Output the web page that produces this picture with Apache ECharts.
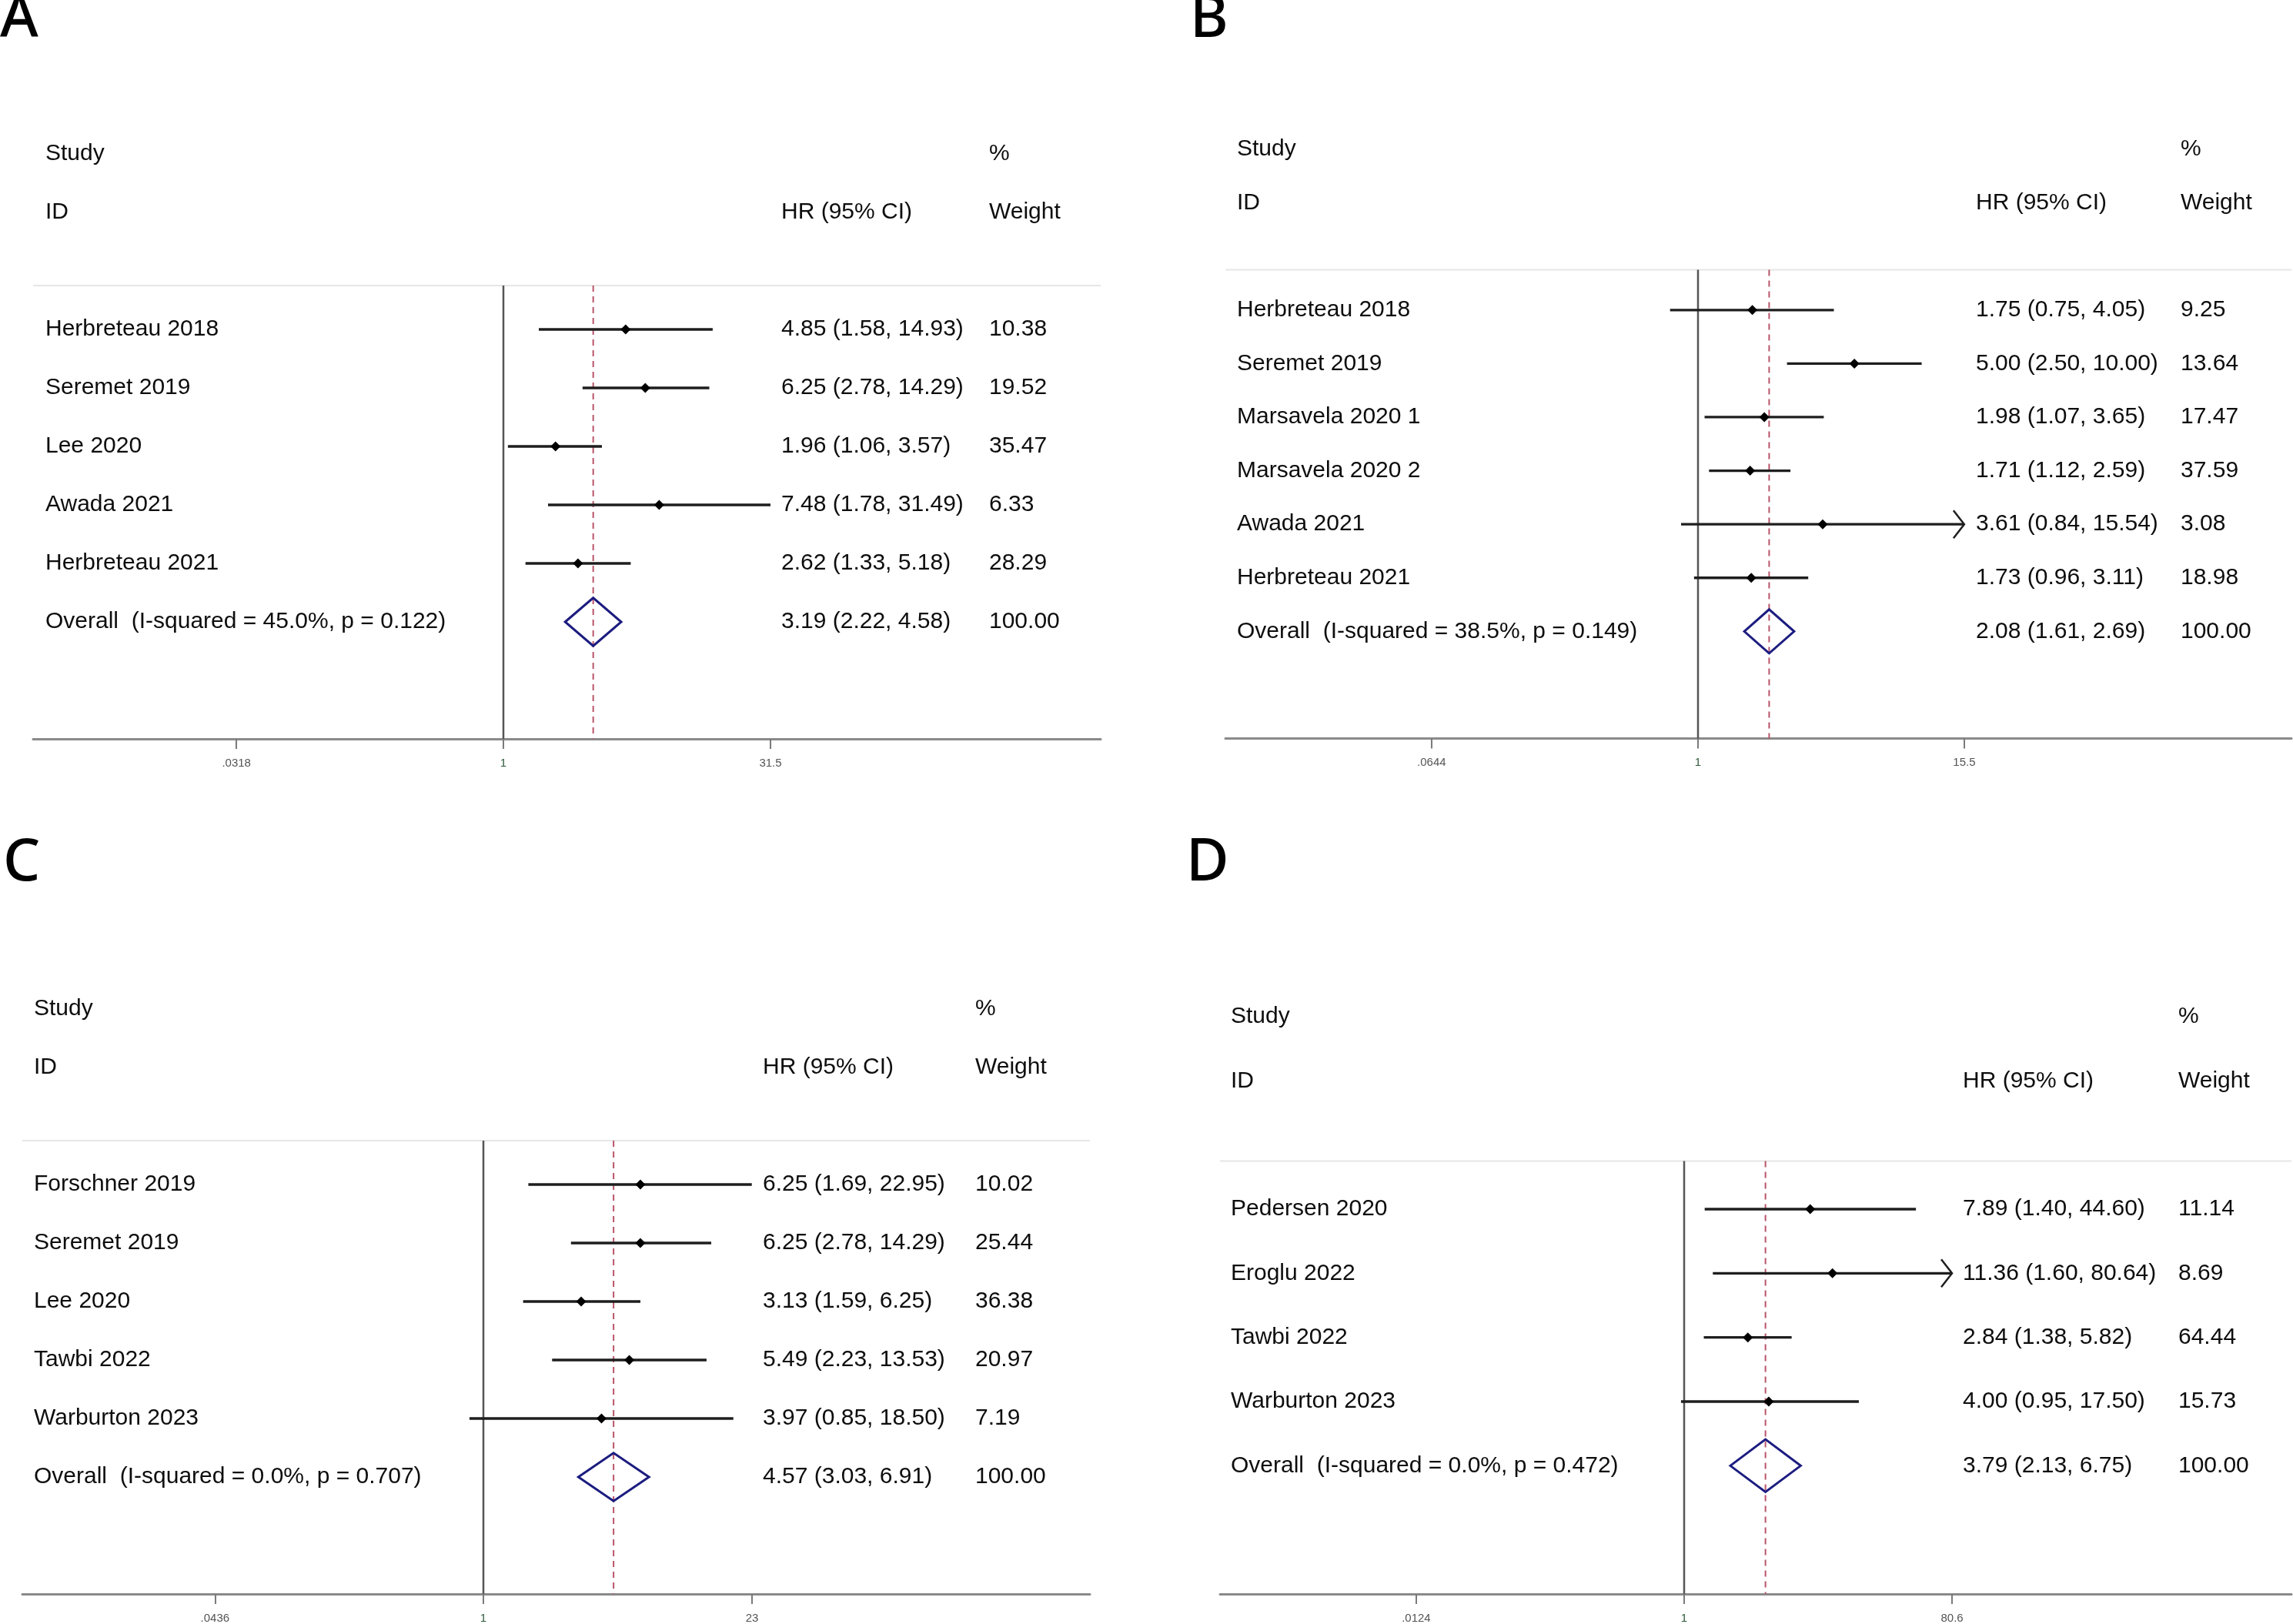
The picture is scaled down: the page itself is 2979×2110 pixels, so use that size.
<!DOCTYPE html>
<html lang="en">
<head>
    <meta charset="UTF-8">
    <title>forest plots</title>
    <script src="https://cdn.jsdelivr.net/npm/echarts@6/dist/echarts.min.js"></script>
    <style>
        html, body {margin: 0; padding: 0; background: #fff;}
        #main {width: 2979px; height: 2110px;}
    </style>
</head>
<body>
<div id="main"></div>
<script type="text/javascript">
    // panel A
    var studiesA = ['Herbreteau 2018', 'Seremet 2019', 'Lee 2020', 'Awada 2021', 'Herbreteau 2021'];
    var hrA = [4.85, 6.25, 1.96, 7.48, 2.62];
    var lowA = [1.58, 2.78, 1.06, 1.78, 1.33];
    var highA = [14.93, 14.29, 3.57, 31.49, 5.18];
    var weightA = [10.38, 19.52, 35.47, 6.33, 28.29];
    var overallA = [3.19, 2.22, 4.58];
    var hetA = ['45.0%', '0.122'];
    var ticksA = [0.0318, 1, 31.5];
    var tickLabelsA = ['.0318', '1', '31.5'];

    // panel B
    var studiesB = ['Herbreteau 2018', 'Seremet 2019', 'Marsavela 2020 1', 'Marsavela 2020 2', 'Awada 2021', 'Herbreteau 2021'];
    var hrB = [1.75, 5.00, 1.98, 1.71, 3.61, 1.73];
    var lowB = [0.75, 2.50, 1.07, 1.12, 0.84, 0.96];
    var highB = [4.05, 10.00, 3.65, 2.59, 15.54, 3.11];
    var weightB = [9.25, 13.64, 17.47, 37.59, 3.08, 18.98];
    var overallB = [2.08, 1.61, 2.69];
    var hetB = ['38.5%', '0.149'];
    var ticksB = [0.0644, 1, 15.5];
    var tickLabelsB = ['.0644', '1', '15.5'];

    // panel C
    var studiesC = ['Forschner 2019', 'Seremet 2019', 'Lee 2020', 'Tawbi 2022', 'Warburton 2023'];
    var hrC = [6.25, 6.25, 3.13, 5.49, 3.97];
    var lowC = [1.69, 2.78, 1.59, 2.23, 0.85];
    var highC = [22.95, 14.29, 6.25, 13.53, 18.50];
    var weightC = [10.02, 25.44, 36.38, 20.97, 7.19];
    var overallC = [4.57, 3.03, 6.91];
    var hetC = ['0.0%', '0.707'];
    var ticksC = [0.0436, 1, 23];
    var tickLabelsC = ['.0436', '1', '23'];

    // panel D
    var studiesD = ['Pedersen 2020', 'Eroglu 2022', 'Tawbi 2022', 'Warburton 2023'];
    var hrD = [7.89, 11.36, 2.84, 4.00];
    var lowD = [1.40, 1.60, 1.38, 0.95];
    var highD = [44.60, 80.64, 5.82, 17.50];
    var weightD = [11.14, 8.69, 64.44, 15.73];
    var overallD = [3.79, 2.13, 6.75];
    var hetD = ['0.0%', '0.472'];
    var ticksD = [0.0124, 1, 80.6];
    var tickLabelsD = ['.0124', '1', '80.6'];

    // page layout (pixels): plot box, where x=1 sits, pixels per log unit, text columns
    var layouts = [
        {letter: 'A', lx: 0, ly: 26, left: 43, right: 1430, top: 371, bottom: 960, one: 654, scale: 100.58, nameX: 59, hrX: 1015, wtX: 1285},
        {letter: 'B', lx: 1546, ly: 26, left: 1592, right: 2977, top: 350.6, bottom: 959.5, one: 2206, scale: 126.2, nameX: 1607, hrX: 2567, wtX: 2833},
        {letter: 'C', lx: 4, ly: 1122, left: 29, right: 1416, top: 1482, bottom: 2072, one: 628, scale: 111.3, nameX: 44, hrX: 991, wtX: 1267},
        {letter: 'D', lx: 1541, ly: 1122, left: 1585, right: 2977, top: 1508.5, bottom: 2072, one: 2188, scale: 79.29, nameX: 1599, hrX: 2550, wtX: 2830}
    ];
    var panels = [
        {studies: studiesA, hr: hrA, low: lowA, high: highA, weight: weightA, overall: overallA, het: hetA, ticks: ticksA, labels: tickLabelsA},
        {studies: studiesB, hr: hrB, low: lowB, high: highB, weight: weightB, overall: overallB, het: hetB, ticks: ticksB, labels: tickLabelsB},
        {studies: studiesC, hr: hrC, low: lowC, high: highC, weight: weightC, overall: overallC, het: hetC, ticks: ticksC, labels: tickLabelsC},
        {studies: studiesD, hr: hrD, low: lowD, high: highD, weight: weightD, overall: overallD, het: hetD, ticks: ticksD, labels: tickLabelsD}
    ];

    var FONT = 'Liberation Sans';
    var TXT = '#0d0d0d';
    var ln = Math.log;

    function txt(x, y, s) {
        return {type: 'text', x: x, y: y, silent: true,
            style: {text: s, fill: TXT, fontSize: 30, fontFamily: FONT, align: 'left', verticalAlign: 'middle'}};
    }

    function ci(v, lo, hi) {
        return v.toFixed(2) + ' (' + lo.toFixed(2) + ', ' + hi.toFixed(2) + ')';
    }

    var grids = [], xAxes = [], yAxes = [], series = [], graphics = [];

    panels.forEach(function (P, k) {
        var L = layouts[k];
        var n = P.studies.length;
        var xmin = (L.left - L.one) / L.scale;
        var xmax = (L.right - L.one) / L.scale;
        var tickLn = P.ticks.map(function (t) { return ln(t); });
        var tMin = tickLn[0], tMax = tickLn[tickLn.length - 1];

        grids.push({left: L.left, top: L.top, width: L.right - L.left, height: L.bottom - L.top});
        xAxes.push({
            type: 'value', gridIndex: k, min: xmin, max: xmax,
            axisLine: {show: true, onZero: false, lineStyle: {color: '#8a8a8a', width: 3}},
            axisTick: {show: true, customValues: tickLn, length: 13, lineStyle: {color: '#7a7a7a', width: 2}},
            axisLabel: {
                customValues: tickLn, margin: 24, fontSize: 15, fontFamily: FONT, color: '#555',
                formatter: function (v) {
                    for (var i = 0; i < tickLn.length; i++) {
                        if (Math.abs(tickLn[i] - v) < 1e-9) {
                            return P.labels[i] === '1' ? '{g|1}' : P.labels[i];
                        }
                    }
                    return '';
                },
                rich: {g: {color: '#2f5a3a', fontSize: 15, fontFamily: FONT}}
            },
            splitLine: {show: false}
        });
        yAxes.push({type: 'value', gridIndex: k, min: -0.75, max: n + 2, inverse: true, show: false});

        // header, separator, null line and overall dashed line
        series.push({
            type: 'custom', xAxisIndex: k, yAxisIndex: k, silent: true, z: 1,
            data: [[0, -0.75]],
            renderItem: function (params, api) {
                var a = api.coord([xmin, -0.75]), b = api.coord([xmax, -0.75]);
                var top1 = api.coord([0, -0.75]), bot1 = api.coord([0, n + 2]);
                var ov = ln(P.overall[0]);
                var topO = api.coord([ov, -0.75]), botO = api.coord([ov, n + 2]);
                var yS = api.coord([0, -3])[1], yI = api.coord([0, -2])[1];
                return {type: 'group', children: [
                    {type: 'line', shape: {x1: a[0], y1: a[1], x2: b[0], y2: b[1]}, style: {stroke: '#e6e6e6', lineWidth: 2}},
                    {type: 'line', shape: {x1: top1[0], y1: top1[1], x2: bot1[0], y2: bot1[1]}, style: {stroke: '#555', lineWidth: 2.5}},
                    {type: 'line', shape: {x1: topO[0], y1: topO[1], x2: botO[0], y2: botO[1]},
                        style: {stroke: '#b8556a', lineWidth: 2, lineDash: [8, 6]}},
                    txt(L.nameX, yS, 'Study'),
                    txt(L.wtX, yS, '%'),
                    txt(L.nameX, yI, 'ID'),
                    txt(L.hrX, yI, 'HR (95% CI)'),
                    txt(L.wtX, yI, 'Weight')
                ]};
            }
        });

        // individual studies
        series.push({
            type: 'custom', xAxisIndex: k, yAxisIndex: k, silent: true, z: 3,
            encode: {x: [0, 2, 3], y: 1},
            data: P.studies.map(function (s, i) {
                return [ln(P.hr[i]), i, ln(P.low[i]), ln(P.high[i])];
            }),
            renderItem: function (params, api) {
                var i = params.dataIndex;
                var row = api.value(1);
                var lo = Math.max(api.value(2), tMin), hi = Math.min(api.value(3), tMax);
                var p = api.coord([api.value(0), row]);
                var pl = api.coord([lo, row]), ph = api.coord([hi, row]);
                var y = p[1];
                var kids = [
                    {type: 'line', shape: {x1: pl[0], y1: y, x2: ph[0], y2: y}, style: {stroke: '#1e1e1e', lineWidth: 3.3}}
                ];
                if (api.value(3) > tMax) {
                    kids.push({type: 'polyline', shape: {points: [[ph[0] - 14, y - 18], [ph[0], y], [ph[0] - 14, y + 18]]},
                        style: {stroke: '#1e1e1e', lineWidth: 2.5, fill: null}});
                }
                if (api.value(2) < tMin) {
                    kids.push({type: 'polyline', shape: {points: [[pl[0] + 14, y - 18], [pl[0], y], [pl[0] + 14, y + 18]]},
                        style: {stroke: '#1e1e1e', lineWidth: 2.5, fill: null}});
                }
                kids.push({type: 'polygon', shape: {points: [[p[0] - 6.5, y], [p[0], y - 6.5], [p[0] + 6.5, y], [p[0], y + 6.5]]},
                    style: {fill: '#000'}});
                kids.push(txt(L.nameX, y, P.studies[i]));
                kids.push(txt(L.hrX, y, ci(P.hr[i], P.low[i], P.high[i])));
                kids.push(txt(L.wtX, y, P.weight[i].toFixed(2)));
                return {type: 'group', children: kids};
            }
        });

        // pooled estimate
        series.push({
            type: 'custom', xAxisIndex: k, yAxisIndex: k, silent: true, z: 4,
            encode: {x: [0, 2, 3], y: 1},
            data: [[ln(P.overall[0]), n, ln(P.overall[1]), ln(P.overall[2])]],
            renderItem: function (params, api) {
                var row = api.value(1);
                var c = api.coord([api.value(0), row]);
                var up = api.coord([api.value(0), row - 0.41]);
                var dn = api.coord([api.value(0), row + 0.41]);
                var l = api.coord([api.value(2), row]);
                var r = api.coord([api.value(3), row]);
                var y = c[1];
                return {type: 'group', children: [
                    {type: 'polygon', shape: {points: [l, up, r, dn]}, style: {fill: null, stroke: '#1c1c80', lineWidth: 3}},
                    txt(L.nameX, y, 'Overall  (I-squared = ' + P.het[0] + ', p = ' + P.het[1] + ')'),
                    txt(L.hrX, y, ci(P.overall[0], P.overall[1], P.overall[2])),
                    txt(L.wtX, y, '100.00')
                ]};
            }
        });

        graphics.push({
            type: 'text', x: L.lx, y: L.ly, silent: true,
            style: {text: L.letter, fill: '#000', fontSize: 76, fontWeight: 500, fontFamily: 'Noto Sans',
                align: 'left', verticalAlign: 'middle'}
        });
    });

    var myChart = echarts.init(document.getElementById('main'), null, {renderer: 'canvas'});
    myChart.setOption({
        backgroundColor: '#fff',
        animation: false,
        grid: grids,
        xAxis: xAxes,
        yAxis: yAxes,
        series: series,
        graphic: graphics
    });
</script>
</body>
</html>
